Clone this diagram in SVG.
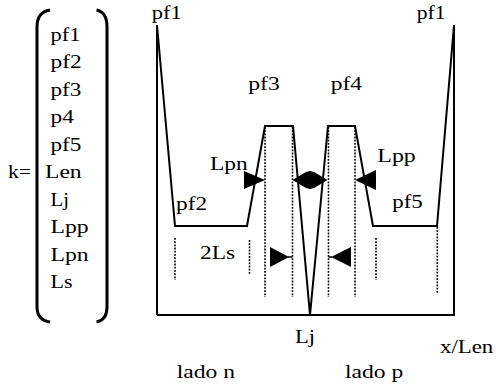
<svg xmlns="http://www.w3.org/2000/svg" width="496" height="389" viewBox="0 0 496 389">
<style>
text{font-family:"Liberation Serif","Times New Roman",Times,serif;font-size:18px;fill:#000}
.ln{fill:none;stroke:#000;stroke-width:2;stroke-linejoin:miter}
.br{fill:none;stroke:#000;stroke-width:3}
.dot{fill:none;stroke:#000;stroke-width:1.6;stroke-dasharray:1.8 1.4}
.ah{fill:#000;stroke:none}
</style>
<g id="vector">
<path class="br" d="M50 10 Q37 12 37 27 L37 307 Q37 320 50 322"/>
<path class="br" d="M96.5 10 Q107 12 107 27 L107 307 Q107 320 96.5 322"/>
<text transform="translate(8 178) scale(1.2 1)">k=</text>
<text transform="translate(50.5 40.7) scale(1.25 1)">pf1</text>
<text transform="translate(50.5 68.2) scale(1.3 1)">pf2</text>
<text transform="translate(50.5 95.7) scale(1.29 1)">pf3</text>
<text transform="translate(50.5 123.2) scale(1.3 1)">p4</text>
<text transform="translate(50.5 150.7) scale(1.29 1)">pf5</text>
<text transform="translate(45 178) scale(1.31 1)">Len</text>
<text transform="translate(50.5 205.7) scale(1.15 1)">Lj</text>
<text transform="translate(50.5 233.2) scale(1.32 1)">Lpp</text>
<text transform="translate(50.5 260.7) scale(1.32 1)">Lpn</text>
<text transform="translate(50.5 288.2) scale(1.22 1)">Ls</text>
</g>
<g id="profile">
<polyline class="ln" points="157,315 157,25 175,226 247,226 265,126 293,126 310,315 328,126 355,126 373,226 437,226 454,25 454,315 157,315"/>
</g>
<g id="connectors">
<line class="dot" x1="175" y1="238" x2="175" y2="280"/>
<line class="dot" x1="249.5" y1="240" x2="249.5" y2="275"/>
<line class="dot" x1="265" y1="127" x2="265" y2="297"/>
<line class="dot" x1="292.5" y1="127" x2="292.5" y2="297"/>
<line class="dot" x1="328.5" y1="127" x2="328.5" y2="297"/>
<line class="dot" x1="355" y1="127" x2="355" y2="297"/>
<line class="dot" x1="376" y1="238" x2="376" y2="280"/>
<line class="dot" x1="437.3" y1="227" x2="437.3" y2="294"/>
<path class="ah" d="M244 171 L244 189 L265 180 Z"/>
<path class="ah" d="M376 170 L376 190 L355 180 Z"/>
<path class="ah" d="M292.5 180 L306 172 L310 171 L314 172 L327.5 180 L314 188 L310 189 L306 188 Z"/>
<path class="ah" d="M270 247 L270 267 L289 257 Z"/>
<line x1="288" y1="257" x2="292.5" y2="257" stroke="#000" stroke-width="1.5"/>
<path class="ah" d="M351 247 L351 267 L331 257 Z"/>
<line x1="328.5" y1="257" x2="332" y2="257" stroke="#000" stroke-width="1.5"/>
</g>
<g id="labels">
<text transform="translate(151.7 18.5) scale(1.25 1)">pf1</text>
<text transform="translate(416.7 18.5) scale(1.2 1)">pf1</text>
<text transform="translate(248.3 89.5) scale(1.31 1)">pf3</text>
<text transform="translate(330.7 89.5) scale(1.31 1)">pf4</text>
<text transform="translate(210 170) scale(1.3 1)">Lpn</text>
<text transform="translate(377.3 161.7) scale(1.33 1)">Lpp</text>
<text transform="translate(176 210) scale(1.3 1)">pf2</text>
<text transform="translate(392.3 208.3) scale(1.27 1)">pf5</text>
<text transform="translate(200 258.7) scale(1.3 1)">2Ls</text>
<text transform="translate(295 343) scale(1.25 1)">Lj</text>
<text transform="translate(440 353.3) scale(1.27 1)">x/Len</text>
<text transform="translate(176.7 378.3) scale(1.31 1)">lado n</text>
<text transform="translate(345 378.3) scale(1.31 1)">lado p</text>
</g>
</svg>
